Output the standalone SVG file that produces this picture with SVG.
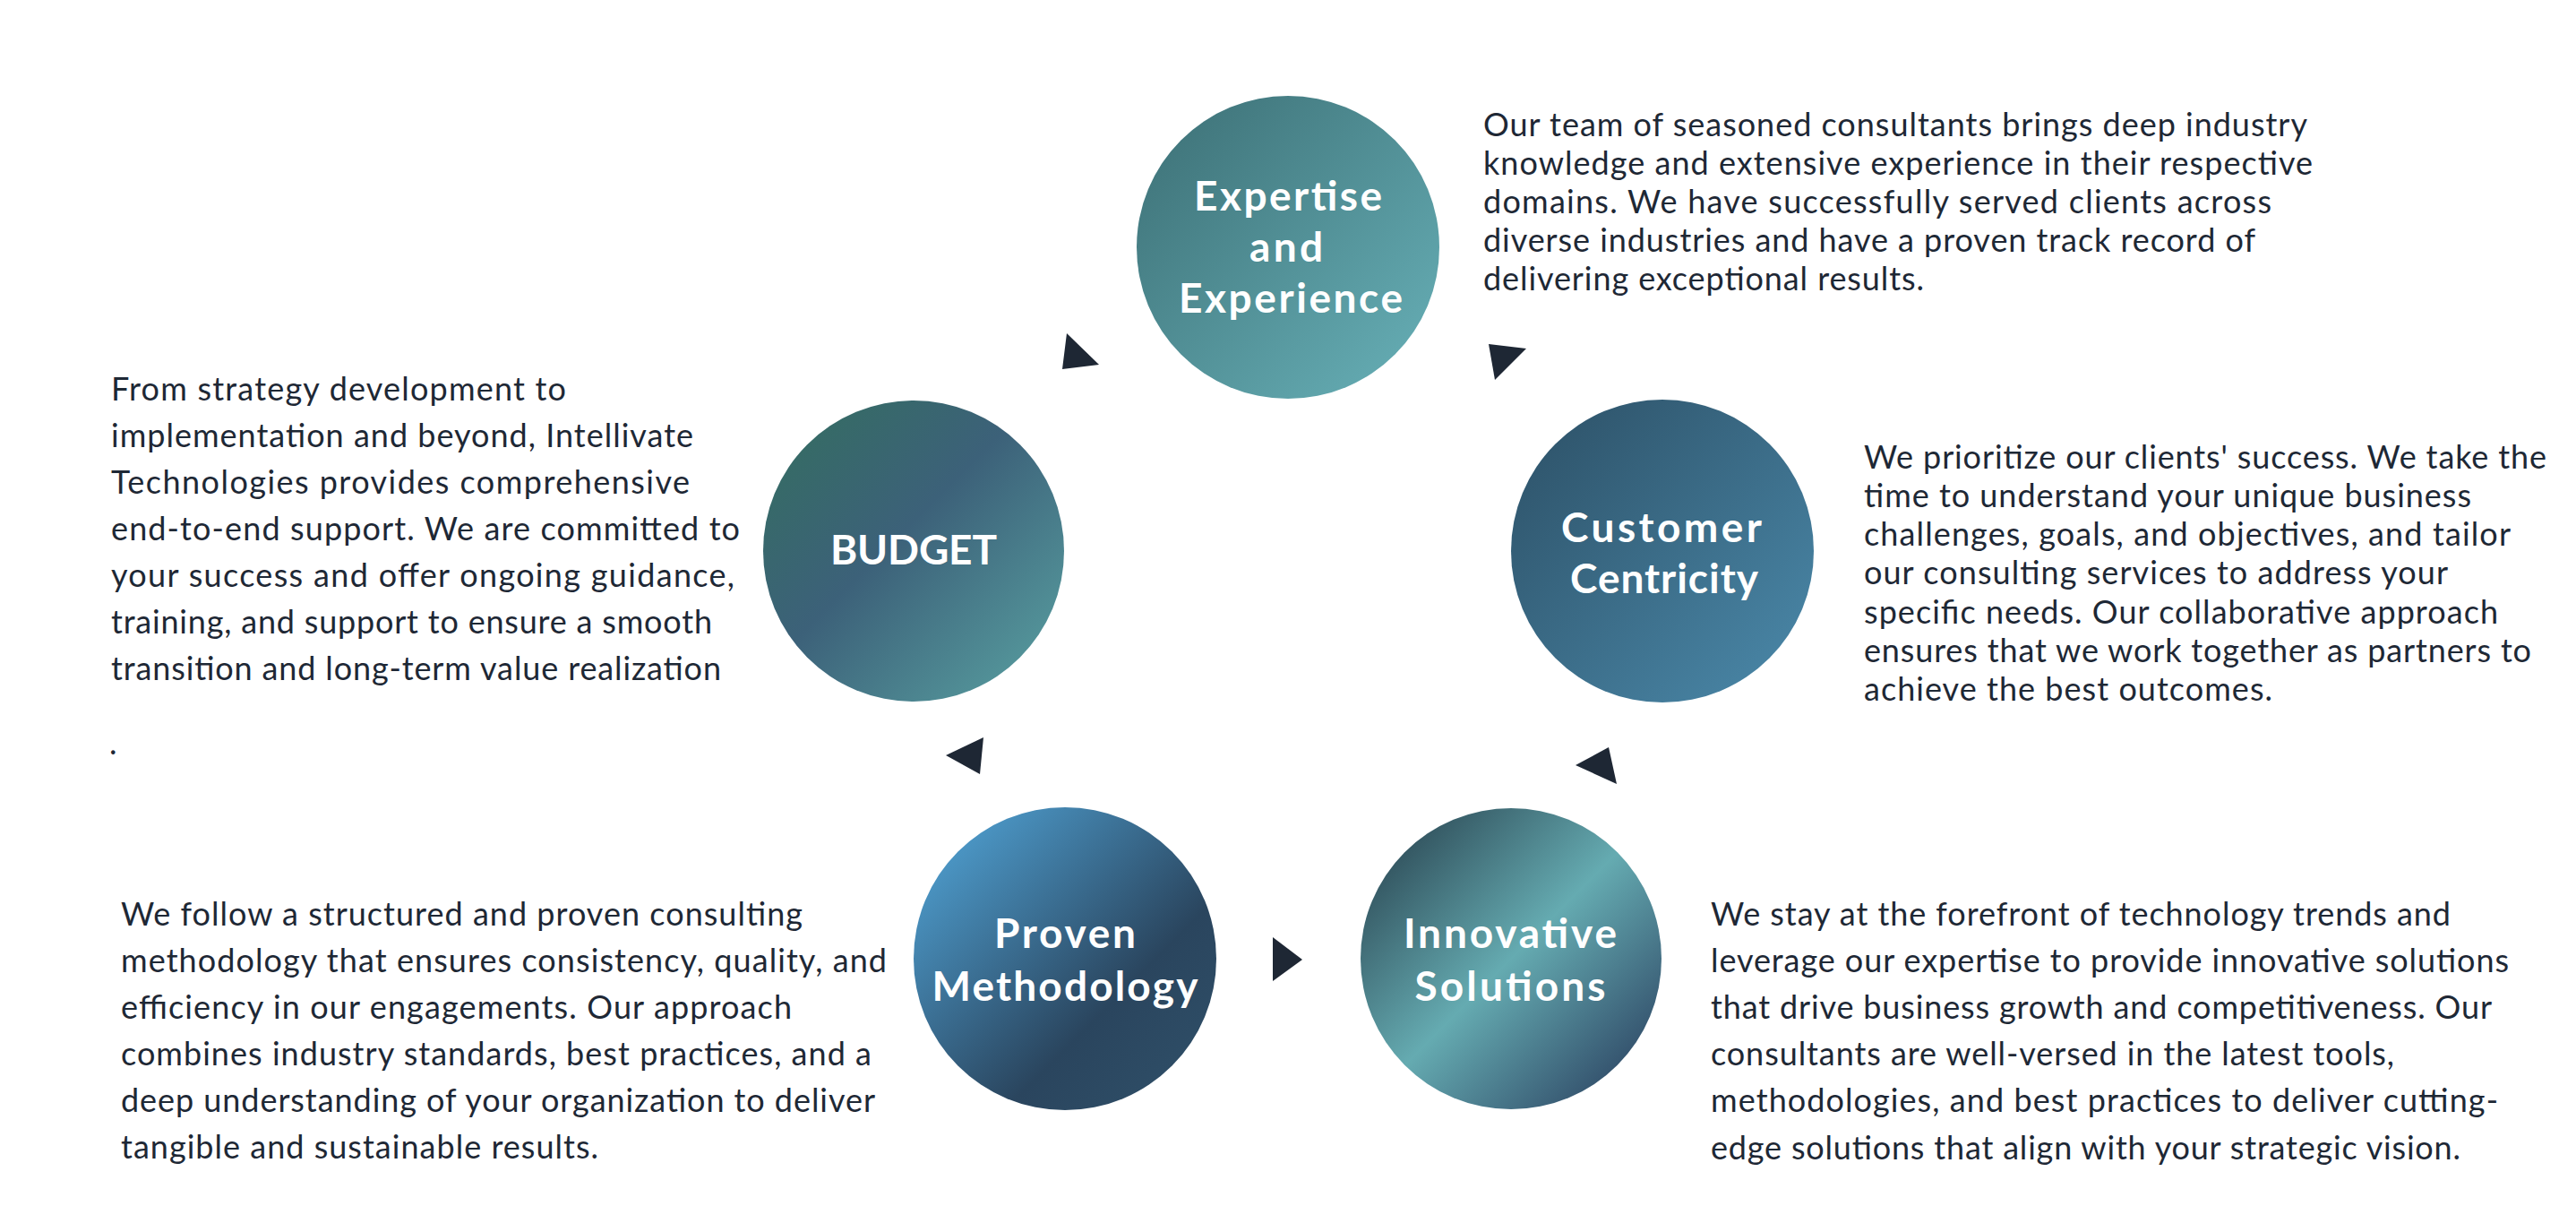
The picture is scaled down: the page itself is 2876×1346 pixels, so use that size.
<svg xmlns="http://www.w3.org/2000/svg" width="2876" height="1346" viewBox="0 0 2876 1346">
<style>
.body{font-family:Lato,"Open Sans","Liberation Sans",sans-serif;font-size:36px;fill:#1e2835;}
.title{font-family:Lato,"Open Sans","Liberation Sans",sans-serif;font-size:46px;font-weight:700;fill:#ffffff;text-anchor:middle;}
.tri{fill:#1e2734;}
</style>
<defs>
<linearGradient id="gExp" x1="0" y1="0" x2="1" y2="1">
<stop offset="0.1" stop-color="#40757b"/>
<stop offset="0.9" stop-color="#64abb2"/>
</linearGradient>
<linearGradient id="gBud" x1="0" y1="0" x2="1" y2="1">
<stop offset="0.12" stop-color="#366b66"/>
<stop offset="0.45" stop-color="#3c6179"/>
<stop offset="1" stop-color="#5aa3a3"/>
</linearGradient>
<linearGradient id="gCus" x1="0" y1="0" x2="1" y2="1">
<stop offset="0.1" stop-color="#2f556c"/>
<stop offset="0.9" stop-color="#4884a4"/>
</linearGradient>
<linearGradient id="gPro" x1="0" y1="0" x2="1" y2="1">
<stop offset="0.1" stop-color="#4d9bcb"/>
<stop offset="0.65" stop-color="#2a455e"/>
<stop offset="1" stop-color="#30516a"/>
</linearGradient>
<linearGradient id="gInn" x1="0" y1="0" x2="1" y2="1">
<stop offset="0.1" stop-color="#2f4e5a"/>
<stop offset="0.5" stop-color="#65abb1"/>
<stop offset="0.9" stop-color="#304b68"/>
</linearGradient>
</defs>
<rect width="2876" height="1346" fill="#ffffff"/>

<g id="node-expertise">
<circle cx="1438" cy="276" r="169" fill="url(#gExp)"/>
<text class="title" x="1438" y="235" textLength="210" lengthAdjust="spacing">Expertise</text>
<text class="title" x="1436" y="292" textLength="82" lengthAdjust="spacing">and</text>
<text class="title" x="1441" y="349" textLength="250" lengthAdjust="spacing">Experience</text>
<text class="body" x="1656" y="152" textLength="920" lengthAdjust="spacing">Our team of seasoned consultants brings deep industry</text>
<text class="body" x="1656" y="195" textLength="926" lengthAdjust="spacing">knowledge and extensive experience in their respective</text>
<text class="body" x="1656" y="238" textLength="880" lengthAdjust="spacing">domains. We have successfully served clients across</text>
<text class="body" x="1656" y="281" textLength="862" lengthAdjust="spacing">diverse industries and have a proven track record of</text>
<text class="body" x="1656" y="324" textLength="492" lengthAdjust="spacing">delivering exceptional results.</text>
</g>

<g id="node-customer">
<circle cx="1856" cy="615" r="169" fill="url(#gCus)"/>
<text class="title" x="1855" y="605" textLength="224" lengthAdjust="spacing">Customer</text>
<text class="title" x="1858" y="662" textLength="210" lengthAdjust="spacing">Centricity</text>
<text class="body" x="2081" y="523" textLength="762" lengthAdjust="spacing">We prioritize our clients' success. We take the</text>
<text class="body" x="2081" y="566" textLength="678" lengthAdjust="spacing">time to understand your unique business</text>
<text class="body" x="2081" y="609" textLength="722" lengthAdjust="spacing">challenges, goals, and objectives, and tailor</text>
<text class="body" x="2081" y="652" textLength="652" lengthAdjust="spacing">our consulting services to address your</text>
<text class="body" x="2081" y="696" textLength="708" lengthAdjust="spacing">specific needs. Our collaborative approach</text>
<text class="body" x="2081" y="739" textLength="745" lengthAdjust="spacing">ensures that we work together as partners to</text>
<text class="body" x="2081" y="782" textLength="456" lengthAdjust="spacing">achieve the best outcomes.</text>
</g>

<g id="node-budget">
<circle cx="1020" cy="615" r="168" fill="url(#gBud)"/>
<text class="title" x="1020" y="630" textLength="186" lengthAdjust="spacing">BUDGET</text>
<text class="body" x="124" y="447" textLength="508" lengthAdjust="spacing">From strategy development to</text>
<text class="body" x="124" y="499" textLength="650" lengthAdjust="spacing">implementation and beyond, Intellivate</text>
<text class="body" x="124" y="551" textLength="646" lengthAdjust="spacing">Technologies provides comprehensive</text>
<text class="body" x="124" y="603" textLength="702" lengthAdjust="spacing">end-to-end support. We are committed to</text>
<text class="body" x="124" y="655" textLength="696" lengthAdjust="spacing">your success and offer ongoing guidance,</text>
<text class="body" x="124" y="707" textLength="671" lengthAdjust="spacing">training, and support to ensure a smooth</text>
<text class="body" x="124" y="759" textLength="681" lengthAdjust="spacing">transition and long-term value realization</text>
<text class="body" x="122" y="842">.</text>
</g>

<g id="node-proven">
<circle cx="1189" cy="1070" r="169" fill="url(#gPro)"/>
<text class="title" x="1189" y="1058" textLength="158" lengthAdjust="spacing">Proven</text>
<text class="title" x="1189" y="1117" textLength="297" lengthAdjust="spacing">Methodology</text>
<text class="body" x="135" y="1033" textLength="761" lengthAdjust="spacing">We follow a structured and proven consulting</text>
<text class="body" x="135" y="1085" textLength="855" lengthAdjust="spacing">methodology that ensures consistency, quality, and</text>
<text class="body" x="135" y="1137" textLength="749" lengthAdjust="spacing">efficiency in our engagements. Our approach</text>
<text class="body" x="135" y="1189" textLength="838" lengthAdjust="spacing">combines industry standards, best practices, and a</text>
<text class="body" x="135" y="1241" textLength="842" lengthAdjust="spacing">deep understanding of your organization to deliver</text>
<text class="body" x="135" y="1293" textLength="533" lengthAdjust="spacing">tangible and sustainable results.</text>
</g>

<g id="node-innovative">
<circle cx="1687" cy="1070" r="168" fill="url(#gInn)"/>
<text class="title" x="1686" y="1058" textLength="238" lengthAdjust="spacing">Innovative</text>
<text class="title" x="1686" y="1117" textLength="213" lengthAdjust="spacing">Solutions</text>
<text class="body" x="1910" y="1033" textLength="826" lengthAdjust="spacing">We stay at the forefront of technology trends and</text>
<text class="body" x="1910" y="1085" textLength="891" lengthAdjust="spacing">leverage our expertise to provide innovative solutions</text>
<text class="body" x="1910" y="1137" textLength="872" lengthAdjust="spacing">that drive business growth and competitiveness. Our</text>
<text class="body" x="1910" y="1189" textLength="763" lengthAdjust="spacing">consultants are well-versed in the latest tools,</text>
<text class="body" x="1910" y="1241" textLength="879" lengthAdjust="spacing">methodologies, and best practices to deliver cutting-</text>
<text class="body" x="1910" y="1294" textLength="837" lengthAdjust="spacing">edge solutions that align with your strategic vision.</text>
</g>

<g id="connectors">
<polygon class="tri" points="1191,372 1227,407 1186,412"/>
<polygon class="tri" points="1662,384 1704,389 1669,424"/>
<polygon class="tri" points="1098,823 1056,843 1094,864"/>
<polygon class="tri" points="1796,834 1759,854 1805,875"/>
<polygon class="tri" points="1421,1046 1454,1071 1421,1095"/>
</g>
</svg>
